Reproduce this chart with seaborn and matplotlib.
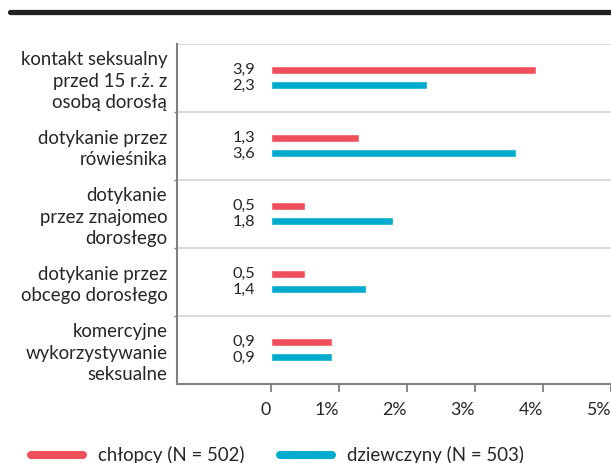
import matplotlib
matplotlib.use("Agg")
import matplotlib.pyplot as plt
from matplotlib.lines import Line2D
import seaborn as sns
import pandas as pd

categories = [
    "kontakt seksualny\nprzed 15 r.ż. z\nosobą dorosłą",
    "dotykanie przez\nrówieśnika",
    "dotykanie\nprzez znajomeo\ndorosłego",
    "dotykanie przez\nobcego dorosłego",
    "komercyjne\nwykorzystywanie\nseksualne",
]
groups = ["chłopcy (N = 502)", "dziewczyny (N = 503)"]
boys = [3.9, 1.3, 0.5, 0.5, 0.9]
girls = [2.3, 3.6, 1.8, 1.4, 0.9]
xticks = [0, 1, 2, 3, 4, 5]
xticklabels = ["0", "1%", "2%", "3%", "4%", "5%"]

RED = "#EF4F5A"
BLUE = "#00ACCD"
TXT = "#262626"
GRAY = "#808080"
LIGHT = "#DCDCDC"

sns.set_theme(style="white")
plt.rcParams["font.family"] = ["Lato", "DejaVu Sans"]

df = pd.DataFrame({
    "category": categories * 2,
    "group": [groups[0]] * len(categories) + [groups[1]] * len(categories),
    "value": boys + girls,
})

fig = plt.figure(figsize=(6.11, 4.63), dpi=100)
ax = fig.add_axes([177 / 611, 1 - 383.5 / 463, 1 - 177 / 611, (383.5 - 43.5) / 463])

sns.barplot(data=df, y="category", x="value", hue="group", order=categories,
            hue_order=groups, palette=[RED, BLUE], width=0.47, gap=0.5,
            orient="h", legend=False, ax=ax, saturation=1)

# separators
for yv in [-0.5, 0.5, 1.5, 2.5, 3.5]:
    ax.axhline(yv, color=LIGHT, lw=1.5, zorder=0)

ax.set_xlim(-1.38, 5.0)
ax.set_ylim(4.5, -0.5)
ax.set_xticks(xticks)
ax.set_xticklabels(xticklabels)
ax.set_xlabel("")
ax.set_ylabel("")

for s in ["top", "right"]:
    ax.spines[s].set_visible(False)
for s in ["left", "bottom"]:
    ax.spines[s].set_color(GRAY)
    ax.spines[s].set_linewidth(1.5)

ax.tick_params(axis="x", length=6, width=1.3, color=GRAY, pad=7,
               labelsize=12.8, labelcolor=TXT, direction="out", bottom=True)
for t in ax.get_xticklabels():
    t.set_horizontalalignment("right")
ax.tick_params(axis="y", which="major", length=0, pad=7, labelsize=13.4, labelcolor=TXT)
ax.set_yticks([0.5, 1.5, 2.5, 3.5], minor=True)
ax.tick_params(axis="y", which="minor", length=2.5, width=1, color=GRAY, left=True)
for t in ax.get_yticklabels():
    t.set_horizontalalignment("right")
    t.set_linespacing(1.3)

# value labels
for container in ax.containers:
    for p, v in zip(container.patches, container.datavalues):
        yc = p.get_y() + p.get_height() / 2
        ax.annotate(f"{v:.1f}".replace(".", ","), xy=(0, yc), xytext=(-11.5, 0),
                    textcoords="offset points", ha="right", va="center",
                    fontsize=11.8, color=TXT)

# legend
handles = [Line2D([], [], color=RED, lw=5.8, solid_capstyle="round"),
           Line2D([], [], color=BLUE, lw=5.8, solid_capstyle="round")]
fig.legend(handles, groups, loc="center left", bbox_to_anchor=(30.5 / 611, 1 - 455 / 463),
           ncol=2, frameon=False, fontsize=13.4, handlelength=2.8, handletextpad=0.8,
           columnspacing=1.95, borderpad=0, borderaxespad=0, labelcolor=TXT)

# top thick rule
fig.add_artist(Line2D([10 / 611, 1.0], [1 - 12 / 463] * 2, lw=3.8, color="#222222"))

fig.savefig("out.png", dpi=100)
